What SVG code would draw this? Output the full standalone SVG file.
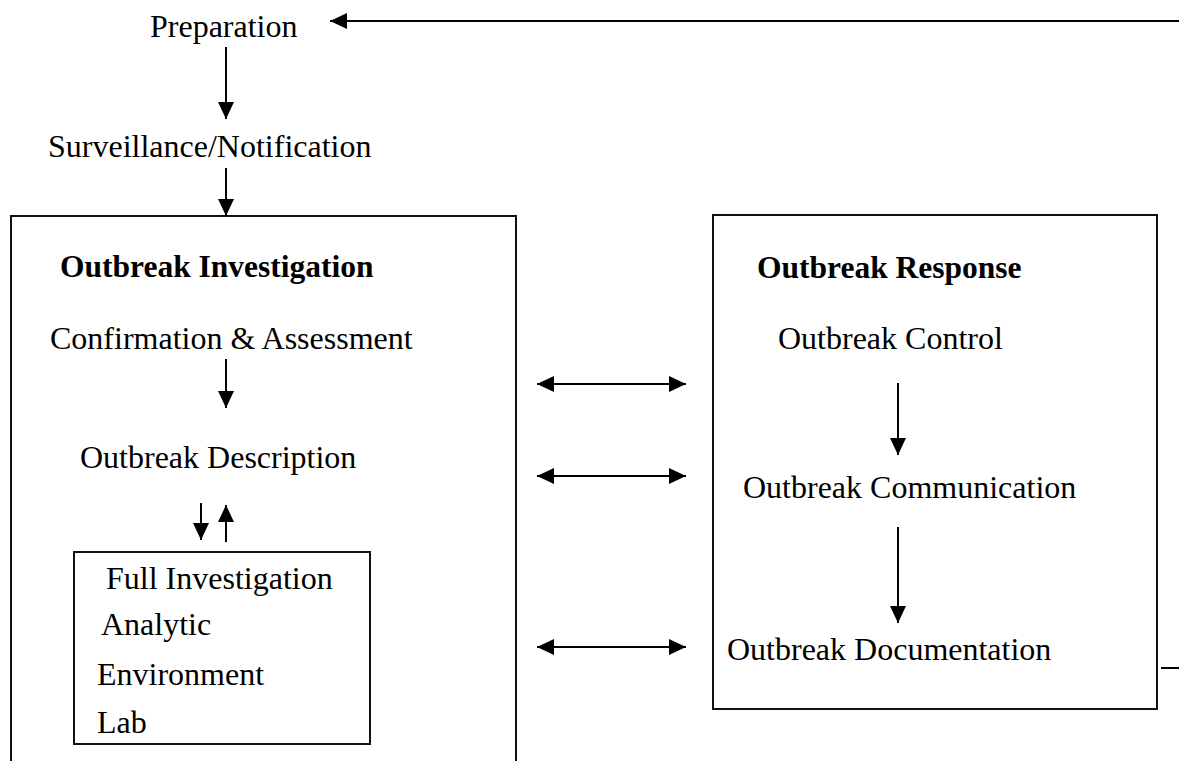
<svg xmlns="http://www.w3.org/2000/svg" width="1179" height="761" viewBox="0 0 1179 761">
  <style>
    .t { font-family: "Liberation Serif", "Times New Roman", serif; font-size: 32px; fill: #000; }
    .b { font-weight: bold; font-size: 31.5px; }
    .box { fill: none; stroke: #111; stroke-width: 2; }
    .ln { fill: none; stroke: #000; stroke-width: 2; }
  </style>
  <defs>
    <marker id="head" markerUnits="userSpaceOnUse" markerWidth="18" markerHeight="17" refX="17" refY="8" orient="auto-start-reverse">
      <path d="M0,0 L17,8 L0,16 z" fill="#000"/>
    </marker>
  </defs>
  <rect width="1179" height="761" fill="#fff"/>

  <g id="preparation">
    <text class="t" x="150" y="37">Preparation</text>
  </g>
  <g id="surveillance">
    <text class="t" x="48" y="157">Surveillance/Notification</text>
  </g>

  <g id="investigation">
    <path class="box" d="M11,761 V216 H516 V761"/>
    <text class="t b" x="60" y="277">Outbreak Investigation</text>
    <text class="t" x="50" y="349">Confirmation &amp; Assessment</text>
    <text class="t" x="80" y="468">Outbreak Description</text>
  </g>

  <g id="full-investigation">
    <rect class="box" x="74" y="552" width="296" height="192"/>
    <text class="t" x="106" y="589">Full Investigation</text>
    <text class="t" x="101" y="635">Analytic</text>
    <text class="t" x="97" y="685">Environment</text>
    <text class="t" x="97" y="733">Lab</text>
  </g>

  <g id="response">
    <rect class="box" x="713" y="215" width="444" height="494"/>
    <text class="t b" x="757" y="278">Outbreak Response</text>
    <text class="t" x="778" y="349">Outbreak Control</text>
    <text class="t" x="743" y="498">Outbreak Communication</text>
    <text class="t" x="727" y="660">Outbreak Documentation</text>
  </g>

  <g id="connectors">
    <!-- feedback line back to preparation -->
    <line class="ln" x1="1179" y1="21" x2="330" y2="21" marker-end="url(#head)"/>
    <line class="ln" x1="226" y1="47" x2="226" y2="119" marker-end="url(#head)"/>
    <line class="ln" x1="226" y1="168" x2="226" y2="216" marker-end="url(#head)"/>
    <line class="ln" x1="226" y1="359" x2="226" y2="408" marker-end="url(#head)"/>
    <line class="ln" x1="201" y1="503" x2="201" y2="540" marker-end="url(#head)"/>
    <line class="ln" x1="226" y1="542" x2="226" y2="505" marker-end="url(#head)"/>
    <!-- links between investigation and response -->
    <line class="ln" x1="537" y1="384" x2="686" y2="384" marker-start="url(#head)" marker-end="url(#head)"/>
    <line class="ln" x1="537" y1="476" x2="686" y2="476" marker-start="url(#head)" marker-end="url(#head)"/>
    <line class="ln" x1="537" y1="647" x2="686" y2="647" marker-start="url(#head)" marker-end="url(#head)"/>
    <!-- response chain -->
    <line class="ln" x1="898" y1="383" x2="898" y2="455" marker-end="url(#head)"/>
    <line class="ln" x1="898" y1="527" x2="898" y2="623" marker-end="url(#head)"/>
    <line class="ln" x1="1161" y1="668" x2="1179" y2="668"/>
  </g>
</svg>
